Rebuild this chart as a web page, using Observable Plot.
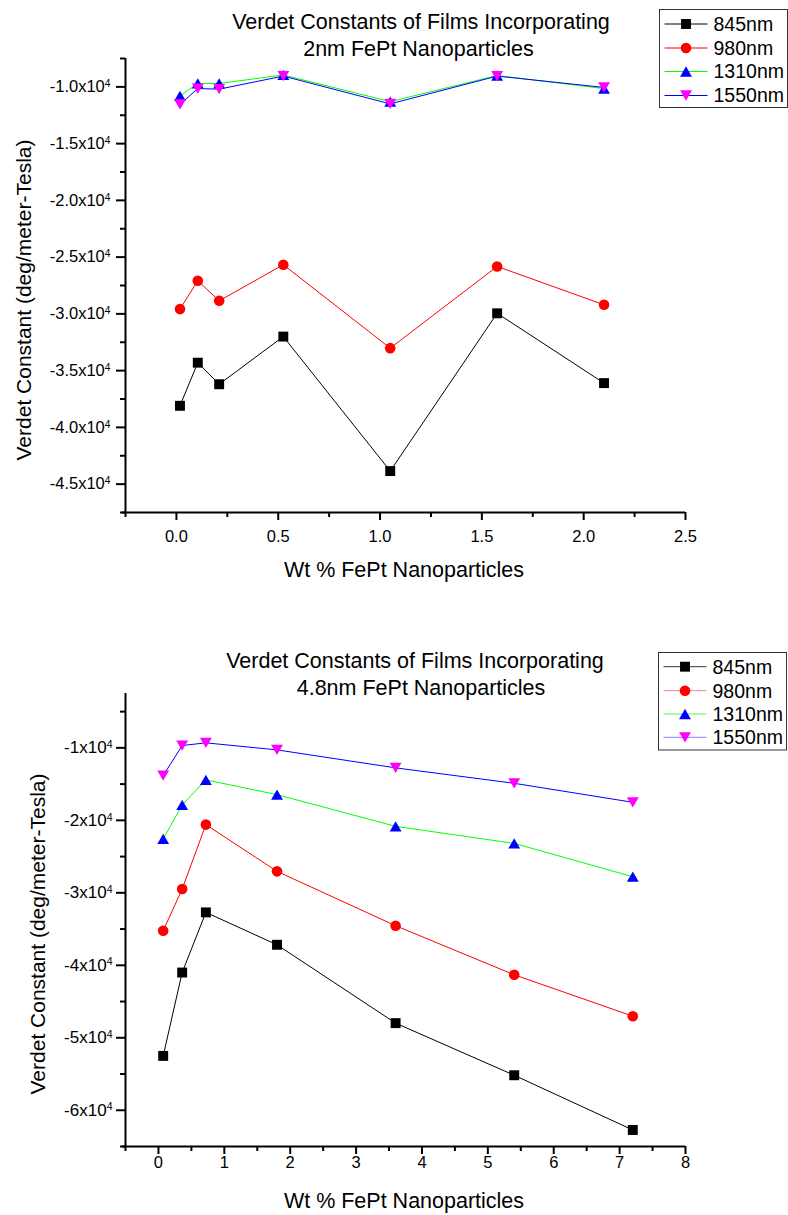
<!DOCTYPE html>
<html>
<head>
<meta charset="utf-8">
<script src="https://cdn.jsdelivr.net/npm/d3@7"></script>
<script src="https://cdn.jsdelivr.net/npm/@observablehq/plot@0.6"></script>
<style>
  html, body { margin: 0; padding: 0; background: #fff; }
  #page { position: relative; width: 788px; height: 1215px; font-family: 'Liberation Sans', Arial, sans-serif; }
  #page svg { display: block; }
  .panel { position: absolute; left: 0; }
  #overlay { position: absolute; left: 0; top: 0; pointer-events: none; }
</style>
</head>
<body>
<div id="page"></div>
<script>
// Wavelength series shared by both panels
const seriesNames = ["845nm", "980nm", "1310nm", "1550nm"];
const lineColors = ["#000000", "#ff0000", "#00ff00", "#0000ff"];
const markerColors = ["#000000", "#ff0000", "#0000ff", "#ff00ff"];
const legendLineColors2 = ["#333333", "#ff8080", "#40ff40", "#8080ff"];

// Panel 1: 2nm FePt nanoparticles
const wt2nm = [0.0175, 0.105, 0.21, 0.525, 1.05, 1.575, 2.1];
const v2nm_845 = [-38100, -34300, -36200, -32000, -43850, -29950, -36100];
const v2nm_980 = [-29580, -27080, -28850, -25670, -33020, -25820, -29200];
const v2nm_1310 = [-10800, -9700, -9700, -8950, -11300, -9000, -10150];
const v2nm_1550 = [-11550, -10150, -10200, -9050, -11500, -9050, -10050];
const xTicks2nm = [0, 0.5, 1.0, 1.5, 2.0, 2.5];
const xMinor2nm = [-0.25, 0.25, 0.75, 1.25, 1.75, 2.25];
const yTicks2nm = [-45000, -40000, -35000, -30000, -25000, -20000, -15000, -10000];
const yMinor2nm = [-47500, -42500, -37500, -32500, -27500, -22500, -17500, -12500, -7500];

// Panel 2: 4.8nm FePt nanoparticles
const wt48nm = [0.072, 0.36, 0.72, 1.8, 3.6, 5.4, 7.2];
const v48nm_845 = [-52500, -41000, -32700, -37170, -47980, -55170, -62720];
const v48nm_980 = [-35230, -29480, -20590, -27040, -34540, -41310, -47020];
const v48nm_1310 = [-22570, -17870, -14420, -16450, -20830, -23180, -27780];
const v48nm_1550 = [-13830, -9680, -9310, -10280, -12760, -14890, -17510];
const xTicks48nm = [0, 1, 2, 3, 4, 5, 6, 7, 8];
const xMinor48nm = [-0.5, 0.5, 1.5, 2.5, 3.5, 4.5, 5.5, 6.5, 7.5];
const yTicks48nm = [-60000, -50000, -40000, -30000, -20000, -10000];
const yMinor48nm = [-65000, -55000, -45000, -35000, -25000, -15000, -5000];

const titleLine1 = "Verdet Constants of Films Incorporating";
const title2nm = "2nm FePt Nanoparticles";
const title48nm = "4.8nm FePt Nanoparticles";
const xLabel = "Wt % FePt Nanoparticles";
const yLabel = "Verdet Constant (deg/meter-Tesla)";

// Triangle symbols centred on their bounding box
const triangleDown = {
  draw(ctx, size) {
    const s = Math.sqrt(size * 4 / Math.sqrt(3));
    const h = s * Math.sqrt(3) / 2;
    ctx.moveTo(-s / 2, -h / 2);
    ctx.lineTo(s / 2, -h / 2);
    ctx.lineTo(0, h / 2);
    ctx.closePath();
  }
};
const triangleUp = {
  draw(ctx, size) {
    const s = Math.sqrt(size * 4 / Math.sqrt(3));
    const h = s * Math.sqrt(3) / 2;
    ctx.moveTo(-s / 2, h / 2);
    ctx.lineTo(s / 2, h / 2);
    ctx.lineTo(0, -h / 2);
    ctx.closePath();
  }
};
const symbols = [d3.symbolSquare, d3.symbolCircle, triangleUp, triangleDown];
const radii = [5.6, 5.3, 4.4, 4.4];

const font = "'Liberation Sans', Arial, sans-serif";

function panel(cfg) {
  const marks = [
    Plot.ruleX([cfg.xDomain[0]], {strokeWidth: 2, insetBottom: -1}),
    Plot.ruleY([cfg.yDomain[0]], {strokeWidth: 2, insetLeft: -3}),
    Plot.axisY(cfg.yTicks, {anchor: "left", tickSize: 9, tickPadding: cfg.yPad, strokeWidth: 2,
      fontSize: cfg.yFont, tickFormat: cfg.yFormat, label: null}),
    Plot.axisY(cfg.yMinor, {anchor: "left", tickSize: 5, strokeWidth: 2, tickFormat: () => "", label: null}),
    Plot.axisX(cfg.xTicks, {anchor: "bottom", tickSize: 8, tickPadding: cfg.xPad, strokeWidth: 2,
      fontSize: 16.5, tickFormat: cfg.xFormat, label: null}),
    Plot.axisX(cfg.xMinor, {anchor: "bottom", tickSize: 5, strokeWidth: 2, tickFormat: () => "", label: null})
  ];
  seriesNames.forEach((name, i) => {
    const rows = cfg.x.map((x, j) => ({x, v: cfg.values[i][j]}));
    marks.push(Plot.line(rows, {x: "x", y: "v", stroke: lineColors[i], strokeWidth: 1}));
    marks.push(Plot.dot(rows, {x: "x", y: "v", symbol: symbols[i], r: radii[i], fill: markerColors[i], stroke: "none"}));
  });
  const svg = Plot.plot({
    width: 788,
    height: cfg.height,
    marginTop: cfg.marginTop,
    marginBottom: cfg.marginBottom,
    marginLeft: 125,
    marginRight: 103,
    x: {domain: cfg.xDomain, label: null},
    y: {domain: cfg.yDomain, label: null},
    style: {fontFamily: font, color: "#000", background: "#fff", overflow: "visible"},
    marks
  });
  // superscript exponent on the y tick labels
  d3.select(svg).selectAll('[aria-label="y-axis tick label"] text').each(function () {
    if (this.textContent.trim() === "") return;
    d3.select(this).append("tspan").attr("dy", "-0.5em").attr("font-size", "0.62em").text("4");
  });
  return svg;
}

const page = document.getElementById("page");

const upperPanel = panel({
  height: 607, marginTop: 58, marginBottom: 95,
  x: wt2nm, values: [v2nm_845, v2nm_980, v2nm_1310, v2nm_1550],
  xDomain: [-0.25, 2.5], yDomain: [-47500, -7500],
  xTicks: xTicks2nm, xMinor: xMinor2nm, yTicks: yTicks2nm, yMinor: yMinor2nm,
  xFormat: d3.format(".1f"), yFormat: d => (d / 1e4).toFixed(1) + "x10",
  yPad: 6, yFont: 16.5, xPad: 10
});
upperPanel.classList.add("panel");
upperPanel.style.top = "0px";
page.appendChild(upperPanel);

const lowerPanel = panel({
  height: 608, marginTop: 86, marginBottom: 69,
  x: wt48nm, values: [v48nm_845, v48nm_980, v48nm_1310, v48nm_1550],
  xDomain: [-0.5, 8], yDomain: [-65000, -2500],
  xTicks: xTicks48nm, xMinor: xMinor48nm, yTicks: yTicks48nm, yMinor: yMinor48nm,
  xFormat: d3.format("d"), yFormat: d => (d / 1e4) + "x10",
  yPad: 4, yFont: 17, xPad: 2
});
lowerPanel.classList.add("panel");
lowerPanel.style.top = "607px";
page.appendChild(lowerPanel);

// Titles, axis titles and legends
const ov = d3.create("svg").attr("id", "overlay").attr("width", 788).attr("height", 1215)
  .attr("font-family", font).attr("fill", "#000");

function text(x, y, str, size, anchor = "middle", rotate = false) {
  const t = ov.append("text").attr("font-size", size).attr("text-anchor", anchor).text(str);
  if (rotate) t.attr("transform", `translate(${x},${y}) rotate(-90)`);
  else t.attr("x", x).attr("y", y);
}

text(421, 29.3, titleLine1, 21.5);
text(418.5, 55.7, title2nm, 21.5);
text(404, 576.7, xLabel, 21.5);
text(30.7, 300, yLabel, 21, "middle", true);

text(415, 668.3, titleLine1, 21.5);
text(421, 695, title48nm, 21.5);
text(404, 1208.3, xLabel, 21.5);
text(45, 934, yLabel, 21, "middle", true);

function legend(x0, y0, w, h, rowYs, lineCols) {
  ov.append("rect").attr("x", x0).attr("y", y0).attr("width", w).attr("height", h)
    .attr("fill", "#fff").attr("stroke", "#333").attr("stroke-width", 1);
  seriesNames.forEach((name, i) => {
    const y = rowYs[i];
    ov.append("line").attr("x1", x0 + 5).attr("x2", x0 + 48).attr("y1", y).attr("y2", y)
      .attr("stroke", lineCols[i]).attr("stroke-width", 1);
    ov.append("path").attr("transform", `translate(${x0 + 26.5},${y})`)
      .attr("d", d3.symbol(symbols[i], Math.PI * radii[i] * radii[i])())
      .attr("fill", markerColors[i]);
    ov.append("text").attr("x", x0 + 54).attr("y", y + 6.8).attr("font-size", 19.5).text(name);
  });
}

legend(659.5, 9.5, 128, 98, [24, 48, 71.5, 95.5], lineColors);
legend(658.5, 652.5, 128, 97.5, [666.7, 690.7, 714, 737.3], legendLineColors2);

page.appendChild(ov.node());
</script>
</body>
</html>
